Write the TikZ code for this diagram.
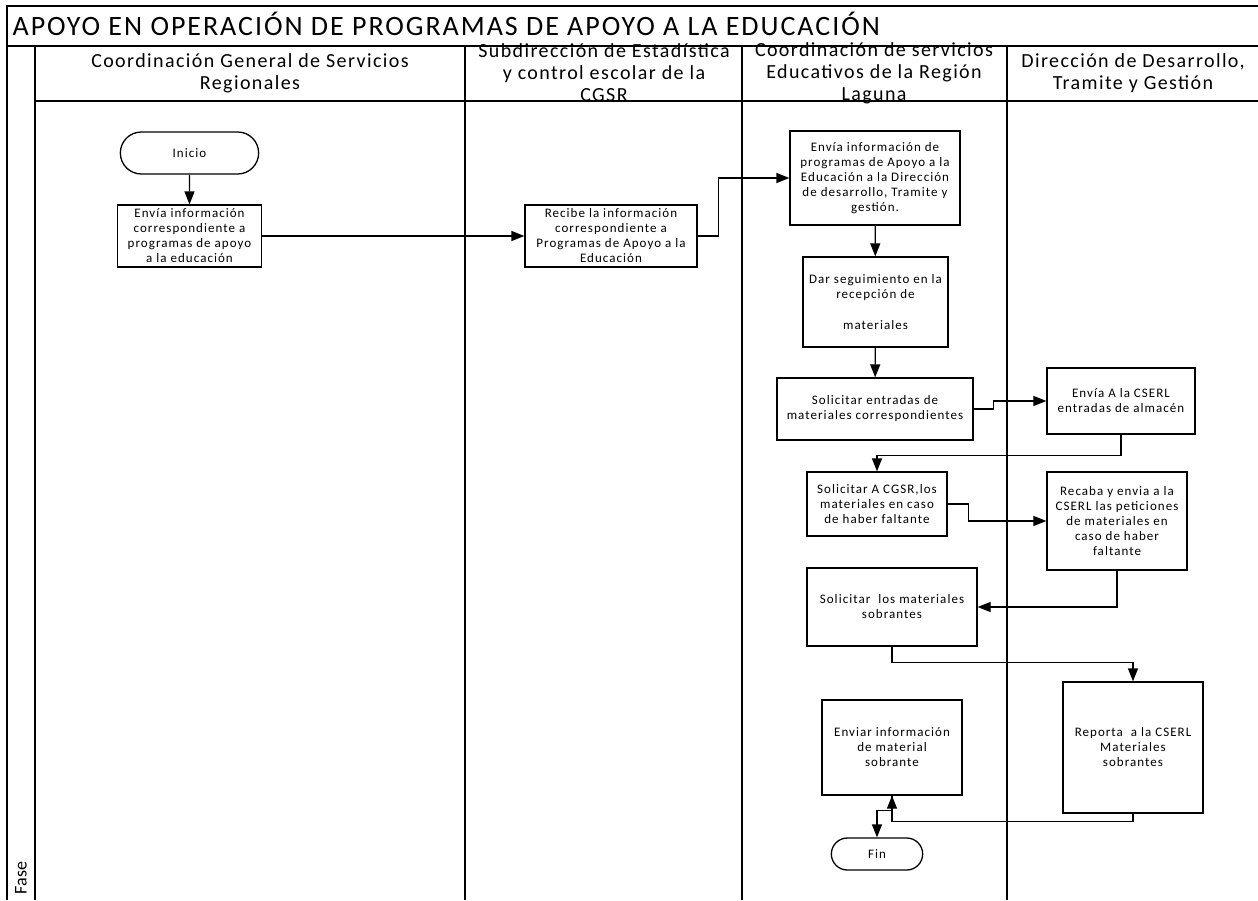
\documentclass[tikz,border=0pt]{standalone}
\usepackage{fontspec}
\setmainfont{Carlito}
\newfontfamily\pasofont[LetterSpace=8]{Carlito}
\newfontfamily\carrilfont[LetterSpace=7]{Carlito}
\newfontfamily\titulofont[LetterSpace=7]{Carlito}
\usetikzlibrary{arrows.meta,shapes.misc}

\begin{document}
\begin{tikzpicture}[x=1pt,y=-1pt,line width=1.3pt,>={Triangle[length=13pt,width=10pt]}]
	\tikzstyle{paso}=[draw,shape=rectangle,align=center,inner sep=1pt,font=\pasofont\fontsize{13}{15}\selectfont]
	\tikzstyle{term}=[draw,shape=rounded rectangle,font=\pasofont\fontsize{13}{15}\selectfont]
	\tikzstyle{carril}=[align=center,inner sep=0pt,font=\carrilfont\fontsize{20}{22}\selectfont]
	
	\useasboundingbox (0,0) rectangle (1258,900);
	
	% marco y carriles
	\draw (7,900) -- (7,6) -- (1258,6);
	\draw (7,46) -- (1258,46);
	\draw (35,101) -- (1258,101);
	\foreach \x in {35,465,742,1007}
		\draw (\x,46) -- (\x,900);
	
	\node[anchor=west,inner sep=0pt,font=\titulofont\fontsize{28}{32}\selectfont] (titulo) at (12,24) {APOYO EN OPERACIÓN DE PROGRAMAS DE APOYO A LA EDUCACIÓN};
	\node[rotate=90,anchor=west,font=\fontsize{18}{20}\selectfont] (fase) at (21,898) {Fase};
	
	\node[carril] (c1) at (250,73) {Coordinación General de Servicios\\Regionales};
	\node[carril] (c2) at (604,73) {Subdirección de Estadística\\y control escolar de la\\CGSR};
	\node[carril] (c3) at (874,73) {Coordinación de servicios\\Educativos de la Región\\Laguna};
	\node[carril] (c4) at (1133,73) {Dirección de Desarrollo,\\Tramite y Gestión};
	
	% pasos
	\node[term,minimum width=145pt,minimum height=42pt] (ini) at (189.5,153) {Inicio};
	\node[paso,minimum width=144pt,minimum height=62pt] (p1) at (189.5,236) {Envía información\\correspondiente a\\programas de apoyo\\a la educación};
	\node[paso,minimum width=172pt,minimum height=62pt] (p2) at (611,236) {Recibe la información\\correspondiente a\\Programas de Apoyo a la\\Educación};
	\node[paso,minimum width=170pt,minimum height=94pt] (p3) at (875,178) {Envía información de\\programas de Apoyo a la\\Educación a la Dirección\\de desarrollo, Tramite y\\gestión.};
	\node[paso,minimum width=145pt,minimum height=90pt] (p4) at (875.5,302) {Dar seguimiento en la\\recepción de\\[16pt]materiales};
	\node[paso,minimum width=196pt,minimum height=62pt] (p5) at (875,409) {Solicitar entradas de\\materiales correspondientes};
	\node[paso,minimum width=148pt,minimum height=66pt] (p6) at (1121,401) {Envía A la CSERL\\entradas de almacén};
	\node[paso,minimum width=140pt,minimum height=64pt] (p7) at (877,504) {Solicitar A CGSR,los\\materiales en caso\\de haber faltante};
	\node[paso,minimum width=140pt,minimum height=98pt] (p8) at (1117,521) {Recaba y envia a la\\CSERL las peticiones\\de materiales en\\caso de haber\\faltante};
	\node[paso,minimum width=170pt,minimum height=78pt] (p9) at (892,607) {Solicitar~ los materiales\\sobrantes};
	\node[paso,minimum width=140pt,minimum height=131pt] (p10) at (1133,747.5) {Reporta~ a la CSERL\\Materiales\\sobrantes};
	\node[paso,minimum width=140pt,minimum height=95pt] (p11) at (892,747.5) {Enviar información\\de material\\sobrante};
	\node[term,minimum width=98pt,minimum height=32pt] (fin) at (877,854) {Fin};
	
	% conectores
	\draw[->] (ini) -- (p1);
	\draw[->] (p1) -- (p2);
	\draw[->] (p2.east) -- ++(21,0) |- (p3.west);
	\draw[->] (p3) -- (p4);
	\draw[->] (p4) -- (p5);
	\draw[->] (p5.east) -- ++(20,0) |- (p6.west);
	\draw[->] (p6.south) -- ++(0,21) -| (p7.north);
	\draw[->] (p7.east) -- ++(21,0) |- (p8.west);
	\draw[->] (p8.south) |- (p9.east);
	\draw[->] (p9.south) -- ++(0,16) -| (p10.north);
	\draw[->] (p10.south) -- ++(0,8) -| (p11.south);
	\draw[->] (p11.south) -- ++(0,15) -| (fin.north);
	
\end{tikzpicture}
\end{document}
